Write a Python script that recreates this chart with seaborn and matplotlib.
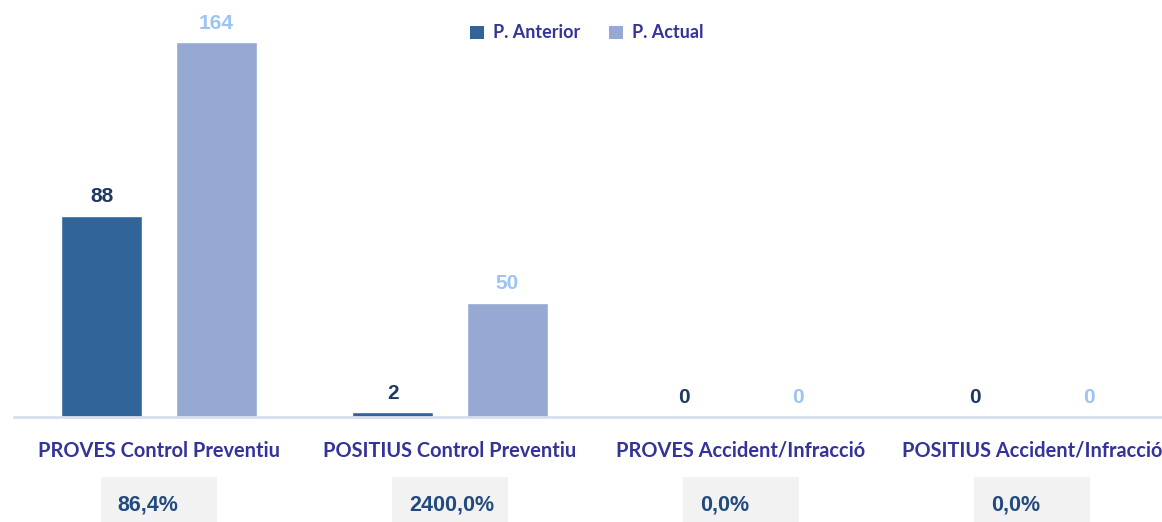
import numpy as np
import pandas as pd
import matplotlib
matplotlib.use("Agg")
import matplotlib.pyplot as plt
import matplotlib.transforms as mtransforms
from matplotlib.patches import Rectangle, Patch
import seaborn as sns

categories = ["PROVES Control Preventiu", "POSITIUS Control Preventiu",
              "PROVES Accident/Infracció", "POSITIUS Accident/Infracció"]
series_names = ["P. Anterior", "P. Actual"]
anterior = [88, 2, 0, 0]
actual = [164, 50, 0, 0]
pct_labels = ["86,4%", "2400,0%", "0,0%", "0,0%"]

df = pd.DataFrame({
    "cat": categories * 2,
    "val": anterior + actual,
    "period": [series_names[0]] * 4 + [series_names[1]] * 4,
})

sns.set_theme(style="white")
plt.rcParams["font.family"] = ["Lato", "DejaVu Sans"]

W, H = 1162, 522
fig = plt.figure(figsize=(W / 100, H / 100), dpi=100)
ax = fig.add_axes([13.5 / W, 1 - 417 / H, 1164 / W, 417 / H])

dark = "#31659A"
light = "#95A9D2"
sns.barplot(data=df, x="cat", y="val", hue="period", palette=[dark, light],
            width=0.784, gap=0.29, ax=ax, legend=False, saturation=1)

ax.set_xlim(-0.5, 3.5)
ax.set_ylim(0, 182.6)

label_colors = ["#1F3864", "#9CC3F5"]
for cont, col in zip(ax.containers, label_colors):
    ax.bar_label(cont, padding=7, color=col, fontsize=15, fontweight="bold",
                 family="Liberation Sans")

for s in ["top", "right", "left"]:
    ax.spines[s].set_visible(False)
ax.spines["bottom"].set_color("#D6DEF0")
ax.spines["bottom"].set_linewidth(2)
ax.set_yticks([])
ax.set_xlabel("")
ax.set_ylabel("")
ax.set_xticks(range(len(categories)))
ax.set_xticklabels(categories, fontsize=14.4, fontweight="bold", color="#333399")
ax.tick_params(axis="x", which="major", length=0, pad=17)
ax.set_xticks(np.arange(-0.5, len(categories), 1.0), minor=True)
ax.tick_params(axis="x", which="minor", length=7, width=1.5, color="#D6DEF0",
               direction="out")

trans = mtransforms.blended_transform_factory(ax.transData, fig.transFigure)
box_w = 0.4
for i, txt in enumerate(pct_labels):
    left = i - box_w / 2
    ax.add_patch(Rectangle((left, 0), box_w, 1 - 477 / H, transform=trans,
                           facecolor="#F2F2F2", edgecolor="none", clip_on=False))
    ax.text(left + 17 / 291, 1 - 505 / H, txt, transform=trans, ha="left",
            va="center", fontsize=15.5, fontweight="bold", color="#234A7E",
            family="Liberation Sans")

handles = [Patch(facecolor=dark, edgecolor="none"),
           Patch(facecolor=light, edgecolor="none")]
fig.legend(handles, series_names, loc="center", bbox_to_anchor=(0.505, 1 - 33 / H),
           ncol=2, frameon=False, handlelength=0.75, handleheight=0.75,
           handletextpad=0.5, columnspacing=1.6,
           prop={"family": "Lato", "weight": "bold", "size": 13},
           labelcolor="#333399")

fig.savefig("out.png", dpi=100)
